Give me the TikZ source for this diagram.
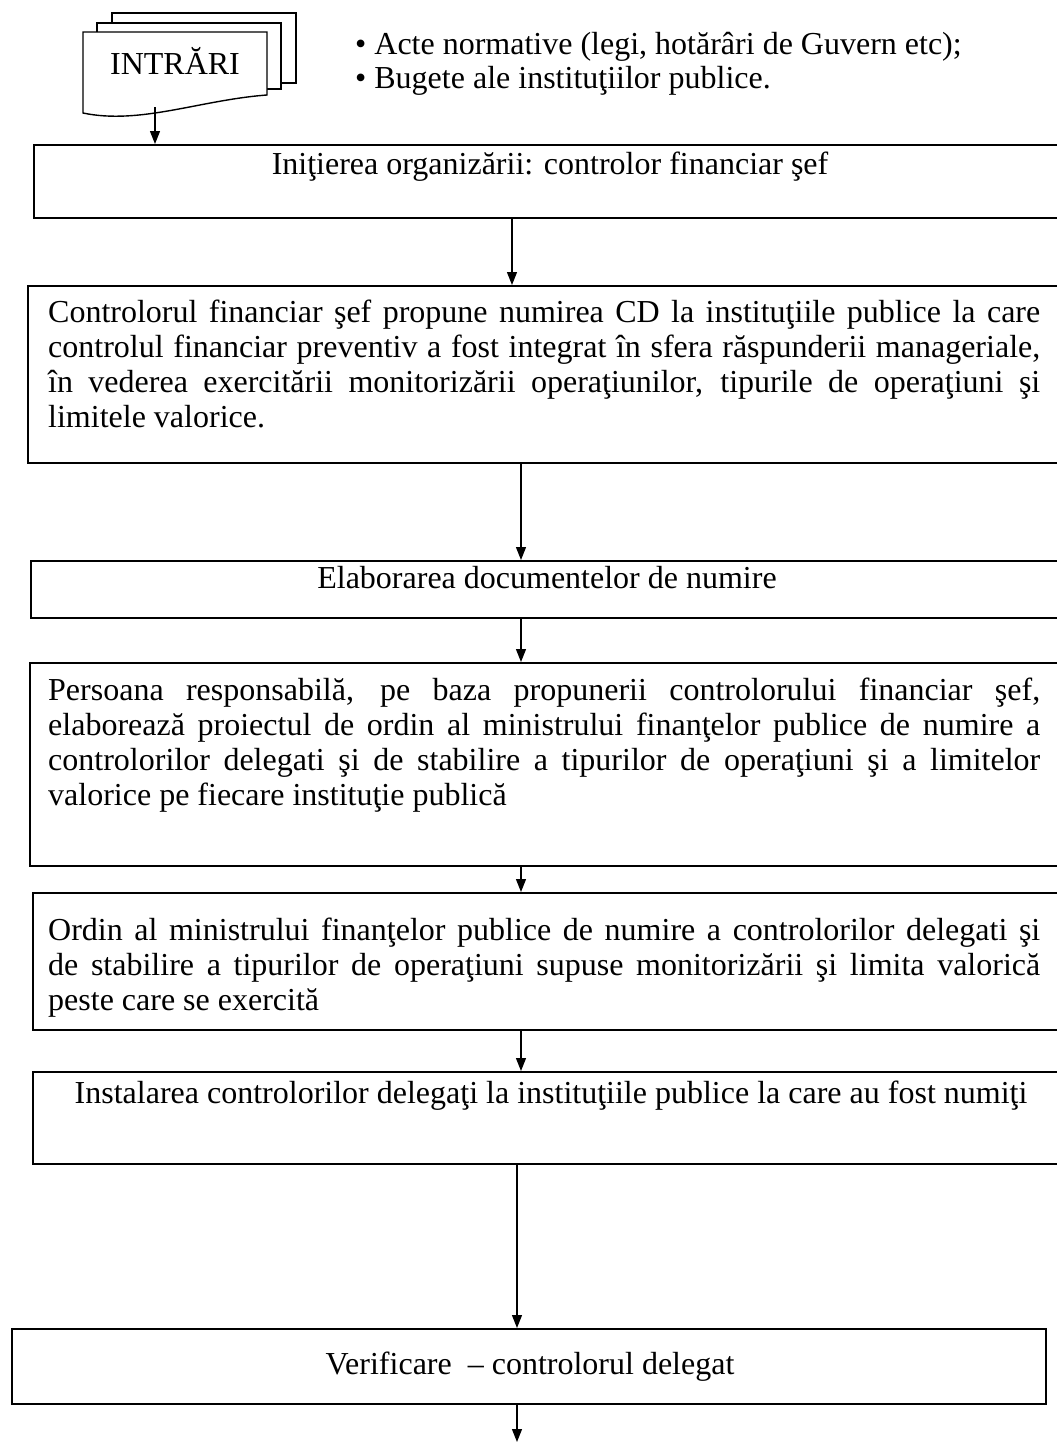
\documentclass[tikz,border=0pt]{standalone}
\usepackage{fontspec}
\setmainfont{Liberation Serif}
\usetikzlibrary{arrows.meta}
\begin{document}
\begin{tikzpicture}[x=1pt,y=-1pt,
  box/.style={draw, line width=1.7pt, rectangle, inner sep=0pt, anchor=north west},
  txt/.style={inner sep=0pt, font=\fontsize{32pt}{35pt}\selectfont},
  arr/.style={line width=1.3pt, -{Triangle[length=13pt,width=10pt]}},
  docsh/.style={draw, line width=1.4pt, fill=white, line join=miter}]
\useasboundingbox (0,0) rectangle (1057,1443);
\fill[white] (0,0) rectangle (1057,1443);
\clip (0,0) rectangle (1057,1443);

% multi-document shape
\path[docsh] (112,13) rectangle (296,83);
\path[docsh] (97,23) rectangle (281,89);
\path[docsh] (83,32) -- (267,32) -- (267,95) .. controls (200,100) and (140,125) .. (83,113) -- cycle;
\node[txt, anchor=base] (intr) at (175,74) {INTRĂRI};
\coordinate (docbot) at (155,107);

% inputs list
\node[txt, anchor=base west] (in1) at (355,54) {• Acte normative (legi, hotărâri de Guvern etc);};
\node[txt, anchor=base west] (in2) at (355,88) {• Bugete ale instituţiilor publice.};

% boxes
\node[box, minimum width=1040pt, minimum height=73pt] (b1) at (33,144) {};
\node[box, minimum width=1046pt, minimum height=177pt] (b2) at (27,285) {};
\node[box, minimum width=1043pt, minimum height=57pt] (b3) at (30,560) {};
\node[box, minimum width=1044pt, minimum height=203pt] (b4) at (29,662) {};
\node[box, minimum width=1041pt, minimum height=137pt] (b5) at (32,892) {};
\node[box, minimum width=1041pt, minimum height=92pt] (b6) at (32,1071) {};
\node[box, minimum width=1034pt, minimum height=75pt] (b7) at (11,1328) {};

% texts
\node[txt, anchor=base] (t1) at (550,174) {Iniţierea organizării: controlor financiar şef};

\node[txt, anchor=base west] (t2a) at (48,322) {\makebox[992pt][s]{Controlorul financiar şef propune numirea CD la instituţiile publice la care}};
\node[txt, anchor=base west] (t2b) at (48,357) {\makebox[992pt][s]{controlul financiar preventiv a fost integrat în sfera răspunderii manageriale,}};
\node[txt, anchor=base west] (t2c) at (48,392) {\makebox[992pt][s]{în vederea exercitării monitorizării operaţiunilor, tipurile de operaţiuni şi}};
\node[txt, anchor=base west] (t2d) at (48,427) {limitele valorice.};

\node[txt, anchor=base] (t3) at (547,588) {Elaborarea documentelor de numire};

\node[txt, anchor=base west] (t4a) at (48,700) {\makebox[992pt][s]{Persoana responsabilă, pe baza propunerii controlorului financiar şef,}};
\node[txt, anchor=base west] (t4b) at (48,735) {\makebox[992pt][s]{elaborează proiectul de ordin al ministrului finanţelor publice de numire a}};
\node[txt, anchor=base west] (t4c) at (48,770) {\makebox[992pt][s]{controlorilor delegati şi de stabilire a tipurilor de operaţiuni şi a limitelor}};
\node[txt, anchor=base west] (t4d) at (48,805) {valorice pe fiecare instituţie publică};

\node[txt, anchor=base west] (t5a) at (48,940) {\makebox[992pt][s]{Ordin al ministrului finanţelor publice de numire a controlorilor delegati şi}};
\node[txt, anchor=base west] (t5b) at (48,975) {\makebox[992pt][s]{de stabilire a tipurilor de operaţiuni supuse monitorizării şi limita valorică}};
\node[txt, anchor=base west] (t5c) at (48,1010) {peste care se exercită};

\node[txt, anchor=base] (t6) at (551,1103) {Instalarea controlorilor delegaţi la instituţiile publice la care au fost numiţi};

\node[txt, anchor=base] (t7) at (530,1374) {Verificare\ \ – controlorul delegat};

% connectors
\coordinate (xa) at (512,0);
\coordinate (xb) at (521,0);
\coordinate (xc) at (517,0);
\coordinate (endc) at (517,1442);

\draw[arr] (docbot) -- (b1.north -| docbot);
\draw[arr] (b1.south -| xa) -- (b2.north -| xa);
\draw[arr] (b2.south -| xb) -- (b3.north -| xb);
\draw[arr] (b3.south -| xb) -- (b4.north -| xb);
\draw[arr] (b4.south -| xb) -- (b5.north -| xb);
\draw[arr] (b5.south -| xb) -- (b6.north -| xb);
\draw[arr] (b6.south -| xc) -- (b7.north -| xc);
\draw[arr] (b7.south -| xc) -- (endc);
\end{tikzpicture}
\end{document}
